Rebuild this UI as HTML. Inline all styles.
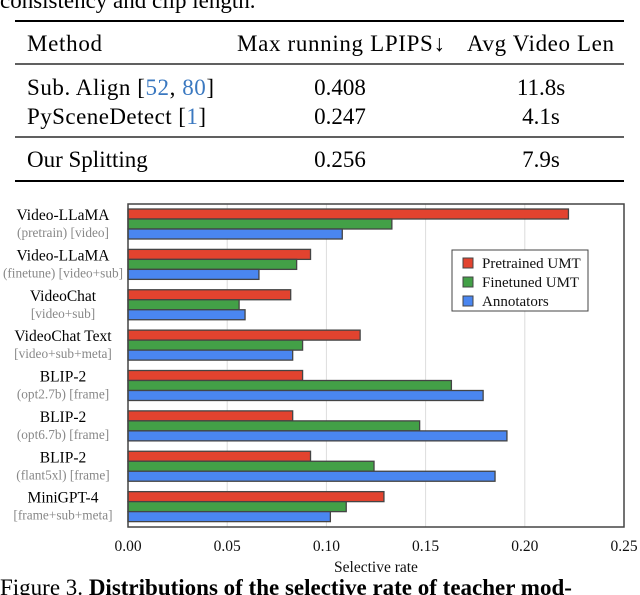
<!DOCTYPE html>
<html><head><meta charset="utf-8"><style>
body{margin:0;background:#fff;width:640px;height:595px;overflow:hidden;font-family:"Liberation Serif",serif;}
svg{position:absolute;left:0;top:0}
</style></head><body>
<svg width="640" height="595" font-family="Liberation Serif, serif">
<g>
<text x="0" y="8" font-size="23" fill="#000">consistency and clip length.</text>
<line x1="15" x2="624" y1="21" y2="21" stroke="#000" stroke-width="2"/>
<line x1="15" x2="624" y1="64" y2="64" stroke="#000" stroke-width="1.2"/>
<line x1="15" x2="624" y1="137" y2="137" stroke="#000" stroke-width="1.2"/>
<line x1="15" x2="624" y1="181" y2="181" stroke="#000" stroke-width="2"/>
<g font-size="23" fill="#000">
<text x="27" y="51" textLength="75">Method</text>
<text x="237" y="51" textLength="208">Max running LPIPS↓</text>
<text x="467" y="51" textLength="147">Avg Video Len</text>
<text x="27" y="95" textLength="187">Sub. Align [<tspan fill="#3a78c0">52</tspan>, <tspan fill="#3a78c0">80</tspan>]</text>
<text x="340" y="95" text-anchor="middle">0.408</text>
<text x="541" y="95" text-anchor="middle">11.8s</text>
<text x="27" y="124" textLength="179">PySceneDetect [<tspan fill="#3a78c0">1</tspan>]</text>
<text x="340" y="124" text-anchor="middle">0.247</text>
<text x="541" y="124" text-anchor="middle">4.1s</text>
<text x="27" y="167">Our Splitting</text>
<text x="340" y="167" text-anchor="middle">0.256</text>
<text x="541" y="167" text-anchor="middle">7.9s</text>
</g></g>
<g id="chart"></g>
<text x="0" y="595" font-size="23" fill="#000">Figure 3. <tspan font-weight="bold">Distributions of the selective rate of teacher mod-</tspan></text>
</svg>
<script>
const categories=["Video-LLaMA","Video-LLaMA","VideoChat","VideoChat Text","BLIP-2","BLIP-2","BLIP-2","MiniGPT-4"];
const subLabels=["(pretrain) [video]","(finetune) [video+sub]","[video+sub]","[video+sub+meta]","(opt2.7b) [frame]","(opt6.7b) [frame]","(flant5xl) [frame]","[frame+sub+meta]"];
const pretrainedUMT=[0.222,0.092,0.082,0.117,0.088,0.083,0.092,0.129];
const finetunedUMT=[0.133,0.085,0.056,0.088,0.163,0.147,0.124,0.110];
const annotators=[0.108,0.066,0.059,0.083,0.179,0.191,0.185,0.102];
const xTicks=[0,0.05,0.10,0.15,0.20,0.25];
const xTickLabels=["0.00","0.05","0.10","0.15","0.20","0.25"];
const seriesNames=["Pretrained UMT","Finetuned UMT","Annotators"];
const NS="http://www.w3.org/2000/svg";
const g=document.getElementById('chart');
const L=128,R=624,T=204,B=527,xmax=0.25;
function xs(v){return L+(v/xmax)*(R-L);}
const pitch=(B-T)/categories.length;
function ys(i){return T+5+i*pitch;}
function mk(tag,attrs){const e=document.createElementNS(NS,tag);for(const k in attrs)e.setAttribute(k,attrs[k]);g.appendChild(e);return e;}
xTicks.forEach((t,i)=>{
 if(i>0&&i<xTicks.length-1){const l=mk('line',{x1:xs(t),x2:xs(t),y1:T,y2:B,stroke:'#dcdcdc','stroke-width':1});
 
 }
 const tx=mk('text',{x:xs(t),y:B+24,'font-size':15.5,'text-anchor':'middle',fill:'#111'});tx.textContent=xTickLabels[i];
 
 
});
const colors=['#e2432f','#43a047','#4a86f0'];
const series=[pretrainedUMT,finetunedUMT,annotators];
const bh=10;
categories.forEach((c,i)=>{
 series.forEach((s,j)=>{
  const r=mk('rect',{x:L,y:ys(i)+j*bh,width:xs(s[i])-L,height:bh,fill:colors[j],stroke:'#444','stroke-width':1.3});
  
  
 });
 const t1=mk('text',{x:63,y:ys(i)+11,'font-size':15.5,'text-anchor':'middle',fill:'#000'});t1.textContent=c;
 
 
 const t2=mk('text',{x:63,y:ys(i)+28,'font-size':13.3,'text-anchor':'middle',fill:'#888'});t2.textContent=subLabels[i];
 
 
});
const frame=mk('rect',{x:L,y:T,width:R-L,height:B-T,fill:'none',stroke:'#444','stroke-width':1.5});


const xt=mk('text',{x:(L+R)/2,y:572,'font-size':15.5,'text-anchor':'middle',fill:'#111'});xt.textContent='Selective rate';


const lg=mk('rect',{x:452,y:250,width:136,height:61,fill:'#fff',stroke:'#444','stroke-width':1});


seriesNames.forEach((n,j)=>{
 const sw=mk('rect',{x:463,y:258+j*19,width:10,height:10,fill:colors[j],stroke:'#444','stroke-width':1});
 
 
 const t=mk('text',{x:482,y:268+j*19,'font-size':15,fill:'#111'});t.textContent=n;
 
 
});
</script>
</body></html>
